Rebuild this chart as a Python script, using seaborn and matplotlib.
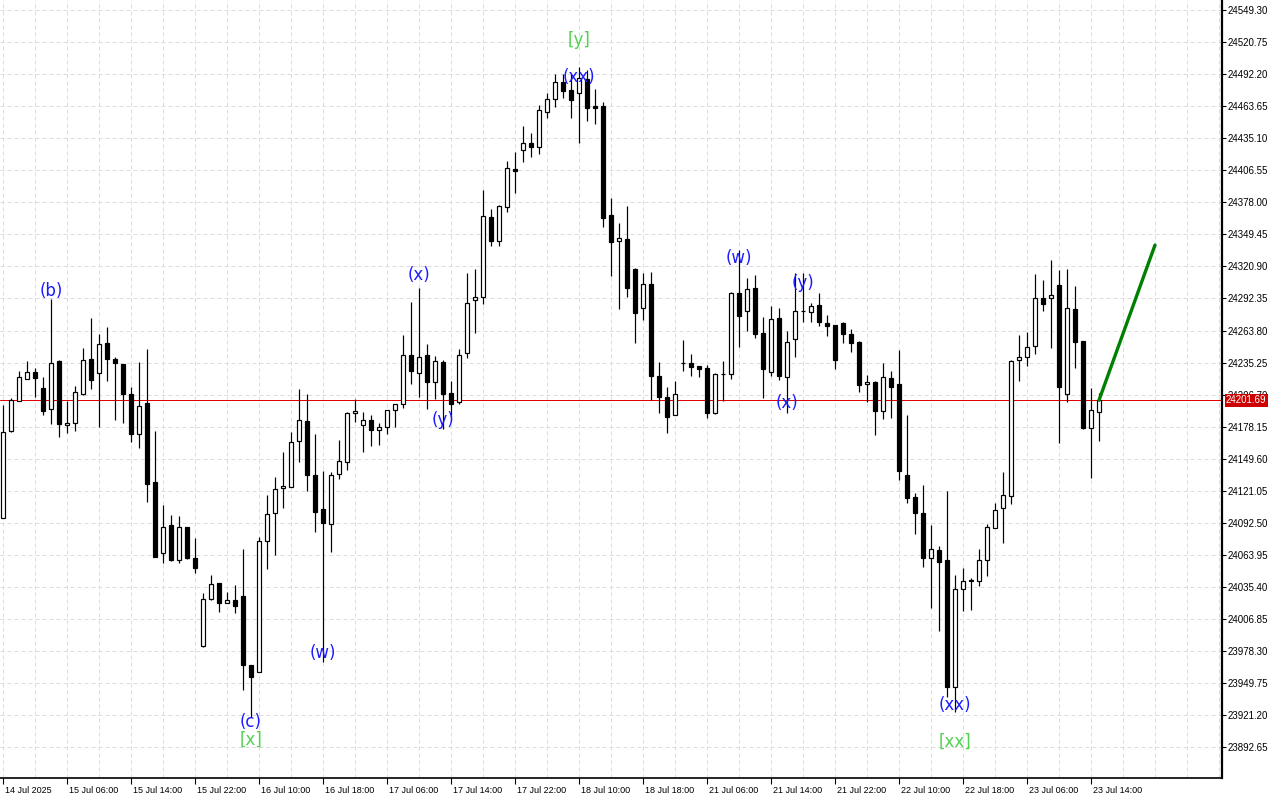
import matplotlib
matplotlib.use("Agg")
import matplotlib.pyplot as plt
import matplotlib.transforms as mtransforms
import seaborn as sns
import numpy as np
import pandas as pd

# ---------------- data (H1 candles) ----------------
opens = [
    24096.6, 24174.4, 24201.2, 24220.8, 24226.5, 24212.3, 24193.5, 24236.9, 24179.3, 24181.0,
    24207.4, 24238.1, 24225.6, 24252.6, 24238.4, 24233.9, 24207.2, 24171.2, 24199.1, 24128.4,
    24065.1, 24090.1, 24059.1, 24088.3, 24060.7, 23982.7, 24024.1, 24038.4, 24020.5, 24023.5,
    24027.0, 23965.5, 23959.5, 24076.4, 24101.3, 24123.1, 24124.5, 24165.0, 24183.1, 24134.9,
    24104.4, 24091.0, 24135.8, 24146.3, 24190.0, 24179.3, 24184.0, 24174.8, 24177.7, 24192.6,
    24198.0, 24241.7, 24225.6, 24241.7, 24217.6, 24235.4, 24207.8, 24199.8, 24243.5, 24290.7,
    24293.4, 24364.7, 24343.9, 24373.6, 24407.8, 24424.5, 24430.7, 24427.7, 24458.9, 24470.0,
    24485.1, 24478.2, 24475.3, 24488.1, 24464.0, 24464.0, 24366.8, 24343.9, 24345.1, 24318.6,
    24283.6, 24305.0, 24223.2, 24204.2, 24188.2, 24234.5, 24234.5, 24232.1, 24230.6, 24190.0,
    24225.0, 24225.0, 24297.0, 24281.2, 24301.4, 24261.3, 24226.5, 24274.7, 24222.6, 24255.9,
    24281.4, 24280.0, 24286.5, 24270.8, 24268.7, 24270.8, 24260.7, 24253.8, 24215.8, 24217.6,
    24192.3, 24221.2, 24216.1, 24134.9, 24115.1, 24100.8, 24060.7, 24068.1, 24059.1, 23945.6,
    24033.0, 24041.3, 24040.4, 24059.1, 24087.4, 24105.2, 24116.2, 24237.5, 24240.4, 24250.2,
    24292.5, 24292.5, 24304.4, 24206.9, 24283.0, 24254.4, 24177.1, 24191.4]

highs = [
    24197.4, 24203.6, 24227.9, 24236.6, 24230.1, 24222.1, 24291.6, 24237.5, 24201.2, 24214.3,
    24247.9, 24274.7, 24260.7, 24266.6, 24239.9, 24233.9, 24213.1, 24236.0, 24247.3, 24174.2,
    24108.2, 24099.0, 24098.4, 24088.3, 24078.5, 24030.0, 24045.8, 24038.4, 24030.9, 24036.9,
    24069.0, 23965.5, 24079.9, 24117.1, 24132.9, 24155.2, 24173.6, 24211.6, 24207.2, 24171.2,
    24138.5, 24137.6, 24166.2, 24190.9, 24202.7, 24190.9, 24188.4, 24181.3, 24192.6, 24198.0,
    24259.8, 24288.9, 24301.7, 24251.8, 24241.1, 24237.5, 24218.8, 24247.0, 24314.8, 24318.4,
    24389.1, 24371.9, 24375.7, 24414.9, 24422.7, 24446.1, 24440.2, 24464.9, 24475.8, 24492.5,
    24492.5, 24492.5, 24499.0, 24496.1, 24478.9, 24467.8, 24381.7, 24359.4, 24374.8, 24319.5,
    24314.8, 24315.7, 24235.4, 24213.7, 24218.8, 24255.3, 24242.8, 24232.1, 24233.0, 24225.6,
    24236.6, 24298.4, 24335.6, 24310.3, 24313.3, 24275.6, 24285.6, 24283.6, 24263.6, 24315.1,
    24315.3, 24288.6, 24297.0, 24277.6, 24268.7, 24271.6, 24264.9, 24254.4, 24224.1, 24218.8,
    24234.5, 24227.9, 24246.4, 24188.4, 24118.6, 24126.0, 24090.4, 24071.6, 24120.7, 24045.8,
    24051.7, 24043.4, 24069.0, 24091.2, 24110.2, 24137.4, 24237.5, 24259.8, 24262.7, 24314.2,
    24308.8, 24326.7, 24317.7, 24318.4, 24303.5, 24254.4, 24212.3, 24208.3]

lows = [
    24096.6, 24173.6, 24201.2, 24220.8, 24204.8, 24188.4, 24180.4, 24168.6, 24172.7, 24174.4,
    24206.0, 24211.4, 24178.0, 24219.0, 24184.0, 24181.0, 24164.6, 24158.7, 24111.1, 24061.6,
    24056.2, 24058.5, 24056.2, 24060.3, 24047.8, 23981.8, 24023.5, 24013.0, 24020.5, 24011.6,
    23943.2, 23919.4, 23959.5, 24051.1, 24063.6, 24105.8, 24124.5, 24146.3, 24120.9, 24084.4,
    23968.5, 24066.5, 24131.1, 24139.4, 24182.5, 24155.7, 24161.1, 24162.0, 24171.5, 24177.5,
    24194.4, 24216.4, 24204.2, 24193.8, 24202.7, 24176.0, 24186.9, 24198.0, 24239.0, 24261.3,
    24287.4, 24339.4, 24339.4, 24369.7, 24386.7, 24414.3, 24418.8, 24421.2, 24453.5, 24463.4,
    24470.8, 24453.5, 24430.7, 24450.9, 24447.7, 24356.4, 24312.7, 24282.7, 24293.9, 24252.9,
    24273.2, 24201.8, 24190.0, 24172.7, 24188.2, 24227.9, 24223.2, 24222.6, 24185.5, 24189.1,
    24201.2, 24220.3, 24248.8, 24263.6, 24257.4, 24203.3, 24223.2, 24219.7, 24190.5, 24240.4,
    24271.6, 24271.6, 24268.1, 24259.2, 24229.2, 24252.9, 24244.9, 24209.2, 24200.3, 24170.6,
    24184.6, 24186.0, 24130.5, 24109.7, 24082.1, 24053.2, 24016.6, 23996.1, 23937.0, 23923.6,
    24013.7, 24014.6, 24036.0, 24045.2, 24087.4, 24074.0, 24108.8, 24219.0, 24232.1, 24242.8,
    24281.2, 24248.5, 24163.7, 24200.3, 24230.1, 24175.7, 24132.0, 24165.5]

closes = [
    24173.3, 24201.8, 24222.1, 24226.5, 24221.7, 24192.3, 24234.5, 24180.2, 24181.0, 24209.2,
    24237.2, 24219.4, 24251.5, 24238.1, 24234.5, 24207.4, 24171.5, 24196.5, 24126.6, 24062.1,
    24088.3, 24059.1, 24088.3, 24061.2, 24051.8, 24024.1, 24037.5, 24020.5, 24023.5, 24018.4,
    23965.5, 23954.6, 24075.8, 24099.9, 24122.5, 24125.1, 24164.4, 24183.7, 24135.2, 24102.2,
    24092.4, 24134.7, 24147.2, 24190.0, 24191.7, 24183.7, 24174.8, 24177.5, 24192.6, 24198.0,
    24241.7, 24227.4, 24240.4, 24218.1, 24236.3, 24206.9, 24198.5, 24241.7, 24288.0, 24293.4,
    24365.9, 24343.9, 24374.8, 24408.4, 24405.8, 24430.7, 24427.7, 24460.1, 24470.0, 24485.1,
    24477.6, 24469.3, 24488.7, 24462.5, 24462.5, 24363.8, 24343.0, 24346.0, 24302.0, 24279.1,
    24305.0, 24223.5, 24204.2, 24186.9, 24206.9, 24234.8, 24231.5, 24229.7, 24190.0, 24225.0,
    24225.2, 24297.0, 24277.0, 24300.5, 24260.4, 24229.2, 24273.8, 24223.5, 24253.3, 24281.4,
    24281.2, 24285.9, 24271.1, 24268.1, 24237.5, 24260.7, 24252.9, 24215.2, 24217.6, 24192.3,
    24222.1, 24213.7, 24138.8, 24114.7, 24100.8, 24061.2, 24068.7, 24057.1, 23946.2, 24033.0,
    24040.4, 24040.4, 24059.1, 24088.3, 24103.5, 24117.1, 24237.0, 24240.6, 24249.3, 24292.5,
    24287.4, 24295.2, 24213.7, 24283.6, 24253.8, 24177.1, 24192.6, 24201.69]

time_labels = ["14 Jul 2025", "15 Jul 06:00", "15 Jul 14:00", "15 Jul 22:00", "16 Jul 10:00",
               "16 Jul 18:00", "17 Jul 06:00", "17 Jul 14:00", "17 Jul 22:00", "18 Jul 10:00",
               "18 Jul 18:00", "21 Jul 06:00", "21 Jul 14:00", "21 Jul 22:00", "22 Jul 10:00",
               "22 Jul 18:00", "23 Jul 06:00", "23 Jul 14:00"]

price_ticks = [24549.30, 24520.75, 24492.20, 24463.65, 24435.10, 24406.55, 24378.00, 24349.45,
               24320.90, 24292.35, 24263.80, 24235.25, 24206.70, 24178.15, 24149.60, 24121.05,
               24092.50, 24063.95, 24035.40, 24006.85, 23978.30, 23949.75, 23921.20, 23892.65]

current_price = 24201.69

proj_bar = [137, 144]
proj_price = [24201.69, 24340.0]

wave_text = ["(b)", "(c)", "[x]", "(w)", "(x)", "(y)", "[y]", "(xx)", "(w)", "(y)", "(x)", "(xx)", "[xx]"]
wave_bar = [6, 31, 31, 40, 52, 55, 72, 72, 92, 100, 98, 119, 119]
wave_price = [24299.0, 23914.7, 23898.6, 23976.2, 24313.3, 24184.0, 24522.8, 24489.8,
              24328.4, 24306.2, 24199.1, 23929.9, 23896.9]
wave_color = ["blue", "blue", "green", "blue", "blue", "blue", "green", "blue",
              "blue", "blue", "blue", "blue", "green"]

# ---------------- drawing ----------------
sns.set_theme(style="white")
plt.rcParams['font.family'] = ['DejaVu Sans']

BLUE = "#1c1cff"
LGREEN = "#4fd24f"
colmap = {"blue": BLUE, "green": LGREEN}

df = pd.DataFrame({"open": opens, "high": highs, "low": lows, "close": closes})
df["bar"] = np.arange(len(df))
df["up"] = df["close"] >= df["open"]
df["bottom"] = df[["open", "close"]].min(axis=1)
df["height"] = (df["close"] - df["open"]).abs().clip(lower=0.4)

fig = plt.figure(figsize=(12.8, 8), dpi=100)
ax = fig.add_axes([0.0, 22 / 800, 1222 / 1280, 778 / 800])
px = 0.72  # one pixel in points

# grid
ax.set_xlim(-0.375, 152.375)
ax.set_ylim(23864.8, 24558.5)
ax.set_xticks(np.arange(0, 153, 4), minor=True)
ax.set_xticks(np.arange(0, 8 * len(time_labels), 8))
ax.set_xticklabels(time_labels)
ax.set_yticks(price_ticks)
ax.set_yticklabels([f"{v:.2f}" for v in price_ticks])
grid_kw = dict(color="#dcdcdc", linestyle=(0, (4, 3)), linewidth=px)
ax.grid(True, which="major", axis="both", **grid_kw)
ax.grid(True, which="minor", axis="x", **grid_kw)
ax.set_axisbelow(True)

# wicks
ax.vlines(df["bar"], df["low"], df["high"], color="black", linewidth=px * 1.2, zorder=2)
# bodies
ax.bar(df["bar"], df["height"], bottom=df["bottom"], width=0.62,
       color=np.where(df["up"], "white", "black"), edgecolor="black",
       linewidth=px * 1.2, zorder=3)

# current price line
ax.axhline(current_price, color="#e00000", linewidth=px, zorder=1.5)

# projection line
sns.lineplot(x=proj_bar, y=proj_price, ax=ax, color="#008000", linewidth=2.4, zorder=4)

# wave labels
for t, b, p, c in zip(wave_text, wave_bar, wave_price, wave_color):
    ax.text(b, p, t, color=colmap[c], fontsize=12, ha="center", va="center", zorder=5)

# axes styling
for s in ["left", "top"]:
    ax.spines[s].set_visible(False)
ax.spines["right"].set_color("black")
ax.spines["right"].set_linewidth(1.6)
ax.spines["bottom"].set_color("black")
ax.spines["bottom"].set_linewidth(1.2)

ax.yaxis.tick_right()
ax.tick_params(axis="y", which="major", right=True, length=3, width=0.8, pad=1,
               labelsize=7, colors="black")
ax.tick_params(axis="x", which="major", bottom=True, length=4, width=0.8, pad=2,
               labelsize=6.5, colors="black")
ax.tick_params(axis="x", which="minor", bottom=False, length=0)
for lab in ax.get_yticklabels():
    lab.set_family(["Liberation Sans", "DejaVu Sans"])
offset = mtransforms.ScaledTranslation(2 / 100, 0, fig.dpi_scale_trans)
for lab in ax.get_xticklabels():
    lab.set_family(["Liberation Sans", "DejaVu Sans"])
    lab.set_horizontalalignment("left")
    lab.set_transform(lab.get_transform() + offset)

# current price tag on the axis
trans = mtransforms.blended_transform_factory(ax.transAxes, ax.transData)
ax.text(1.0 + 4 / 1222, current_price, f"{current_price:.2f}", transform=trans,
        color="white", fontsize=7, family=["Liberation Sans", "DejaVu Sans"],
        ha="left", va="center", clip_on=False, zorder=10,
        bbox=dict(boxstyle="square,pad=0.15", facecolor="#cc0000", edgecolor="none"))

ax.set_xlabel("")
ax.set_ylabel("")
fig.savefig("out.png", dpi=100, facecolor="white")
